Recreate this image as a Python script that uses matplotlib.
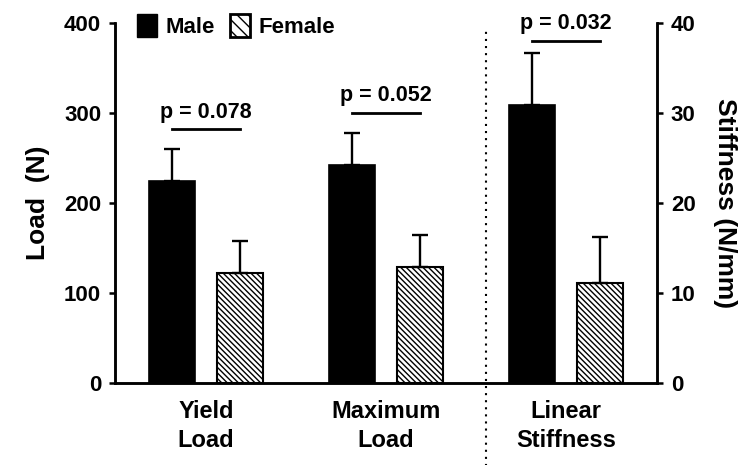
import matplotlib
matplotlib.use("Agg")
import matplotlib.pyplot as plt
from matplotlib.patches import Patch
from matplotlib.lines import Line2D

categories = ["Yield\nLoad", "Maximum\nLoad", "Linear\nStiffness"]
male_load = [224, 242]
male_load_err = [36, 36]
female_load = [122, 129]
female_load_err = [36, 35]
male_stiff = 30.9
male_stiff_err = 5.8
female_stiff = 11.1
female_stiff_err = 5.1
p_labels = ["p = 0.078", "p = 0.052", "p = 0.032"]
load_ticks = [0, 100, 200, 300, 400]
stiff_ticks = [0, 10, 20, 30, 40]

plt.rcParams['font.family'] = ['Liberation Sans', 'DejaVu Sans']
plt.rcParams['font.weight'] = 'bold'
plt.rcParams['hatch.linewidth'] = 1.0

fig = plt.figure(figsize=(7.47, 4.65), dpi=100)
ax = fig.add_axes([115/747, 1-383/465, (657-115)/747, 360/465])
ax2 = ax.twinx()

w = 0.256
off = 0.19
lw = 1.8
ekw = dict(ecolor='black', elinewidth=1.7, capsize=6, capthick=1.7)
hatch = '\\' * 6

for i in range(2):
    ax.bar(i - off, male_load[i], w, color='black', edgecolor='black', lw=1.2,
           yerr=[[0], [male_load_err[i]]], error_kw=ekw, zorder=3)
    ax.bar(i + off, female_load[i], w, color='white', edgecolor='black', lw=1.5,
           hatch=hatch, yerr=[[0], [female_load_err[i]]], error_kw=ekw, zorder=3)

ax2.bar(2 - off, male_stiff, w, color='black', edgecolor='black', lw=1.2,
        yerr=[[0], [male_stiff_err]], error_kw=ekw, zorder=3)
ax2.bar(2 + off, female_stiff, w, color='white', edgecolor='black', lw=1.5,
        hatch=hatch, yerr=[[0], [female_stiff_err]], error_kw=ekw, zorder=3)

# significance brackets
pfs = 15.5
ax.plot([0 - off, 0 + off], [282, 282], color='black', lw=2)
ax.text(0, 301, p_labels[0], ha='center', va='center', fontsize=pfs, fontweight='bold')
ax.plot([1 - off, 1 + off], [300, 300], color='black', lw=2)
ax.text(1, 320, p_labels[1], ha='center', va='center', fontsize=pfs, fontweight='bold')
ax2.plot([2 - off, 2 + off], [38, 38], color='black', lw=2)
ax2.text(2, 40, p_labels[2], ha='center', va='center', fontsize=pfs, fontweight='bold', clip_on=False)

for a in (ax, ax2):
    a.set_xlim(-0.505, 2.505)
    a.spines['top'].set_visible(False)
    for s in ('left', 'right', 'bottom'):
        a.spines[s].set_linewidth(lw)

ax.set_ylim(0, 400)
ax2.set_ylim(0, 40)
ax.set_yticks(load_ticks)
ax2.set_yticks(stiff_ticks)
ax.tick_params(axis='y', direction='out', length=4, width=lw, labelsize=16, pad=6)
ax2.tick_params(axis='y', direction='out', length=4, width=lw, labelsize=16, pad=6)
ax.set_xticks(range(3))
ax.set_xticklabels(categories, fontsize=17, fontweight='bold', linespacing=1.35)
ax.tick_params(axis='x', length=0, pad=12)

ax.set_ylabel("Load  (N)", fontsize=19, fontweight='bold', labelpad=10)
ax2.set_ylabel("Stiffness (N/mm)", fontsize=19, fontweight='bold', rotation=270, labelpad=30)

# dotted separator
sep = Line2D([1.556, 1.556], [-0.23, 0.986], transform=ax.get_xaxis_transform(),
             color='black', lw=1.5, linestyle=(0, (1, 2.4)), clip_on=False)
ax.add_line(sep)

handles = [Patch(facecolor='black', edgecolor='black'),
           Patch(facecolor='white', edgecolor='black', hatch='\\' * 3, lw=2)]
leg = ax.legend(handles, ["Male", "Female"], loc='upper left', bbox_to_anchor=(0.024, 1.05),
                frameon=False, ncol=2, fontsize=16, handlelength=0.9, handleheight=1.2,
                handletextpad=0.4, columnspacing=0.65, borderaxespad=0)

fig.savefig("out.png", dpi=100)
